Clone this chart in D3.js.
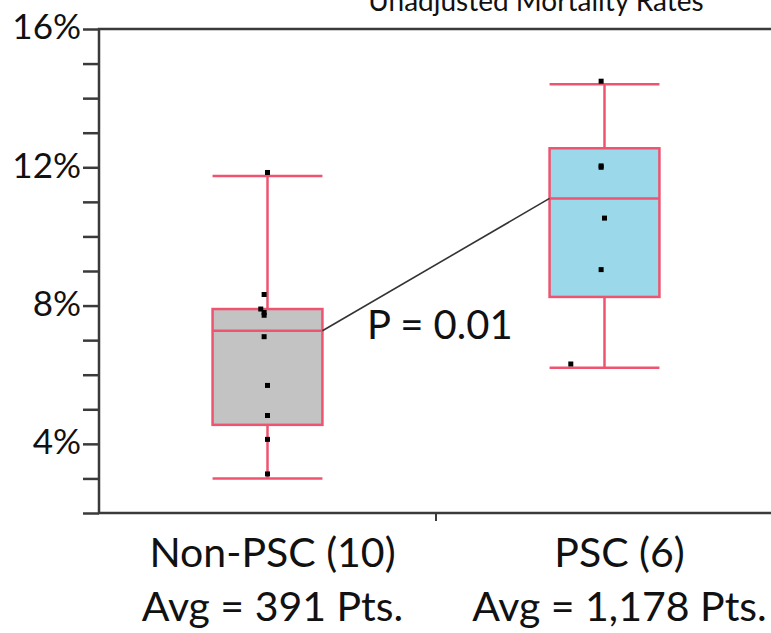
<!DOCTYPE html>
<html>
<head>
<meta charset="utf-8">
<script src="https://cdn.jsdelivr.net/npm/d3@7"></script>
<style>
  body { margin: 0; background: #fff; }
  svg { display: block; font-family: Lato, "Open Sans", sans-serif; }
</style>
</head>
<body>
<div id="canvas"></div>
<script>
// data
const categories = ['Non-PSC (10)', 'PSC (6)'];
const subLabels = ['Avg = 391 Pts.', 'Avg = 1,178 Pts.'];

// box stats (percent)
const boxMin = [3.0, 6.2];
const boxQ1 = [4.55, 8.25];
const boxMedian = [7.27, 11.1];
const boxQ3 = [7.9, 12.55];
const boxMax = [11.75, 14.4];

// individual hospital rates (percent)
const nonPscRates = [11.85, 8.32, 7.9, 7.8, 7.72, 7.1, 5.69, 4.82, 4.13, 3.13];
const pscRates = [14.49, 12.04, 12.0, 10.53, 9.04, 6.31];
// jitter as a fraction of the category band
const nonPscJitter = [0, -0.01, -0.02, -0.01, -0.01, -0.01, 0, 0, 0, 0];
const pscJitter = [-0.01, -0.01, -0.01, 0, -0.01, -0.1];

const yLabelTicks = [4, 8, 12, 16];
const yMinorTicks = [2, 3, 4, 5, 6, 7, 8, 9, 10, 11, 12, 13, 14, 15, 16];

const titleText = 'Unadjusted Mortality Rates';
const pValueText = 'P = 0.01';

const margin = {top: 29, right: -2, bottom: 120, left: 99};
const width = 771, height = 633;
const graphWidth = width - margin.left - margin.right;
const graphHeight = height - margin.top - margin.bottom;

const svg = d3.select('#canvas')
  .append('svg')
  .attr('width', width)
  .attr('height', height);

const graph = svg.append('g')
  .attr('transform', `translate(${margin.left}, ${margin.top})`);

// scales
const x = d3.scaleBand().domain(categories).range([0, graphWidth]);
const y = d3.scaleLinear().domain([2, 16]).range([graphHeight, 0]);
const boxWidth = x.bandwidth() * 0.326;
const cx = c => x(c) + x.bandwidth() / 2;

// title (cut off at the top, like the original)
svg.append('text')
  .attr('x', 536)
  .attr('y', 11)
  .attr('text-anchor', 'middle')
  .attr('font-size', 28)
  .attr('fill', '#111')
  .text(titleText);

// frame
graph.append('rect')
  .attr('x', 0).attr('y', 0)
  .attr('width', graphWidth).attr('height', graphHeight)
  .attr('fill', 'none')
  .attr('stroke', '#3a3a3a')
  .attr('stroke-width', 2.5);

// y axis: minor ticks every 1%, labels every 4%
const yAxisGroup = graph.append('g').attr('class', 'y-axis');
yAxisGroup.call(d3.axisLeft(y)
  .tickValues(yMinorTicks)
  .tickSize(16)
  .tickPadding(2)
  .tickFormat(d => yLabelTicks.includes(d) ? d + '%' : ''));
yAxisGroup.select('.domain').remove();
yAxisGroup.selectAll('line').attr('stroke', '#3a3a3a').attr('stroke-width', 2.5);
yAxisGroup.selectAll('text')
  .attr('font-size', 35)
  .attr('fill', '#111')
  .attr('font-family', 'Lato, sans-serif')
  .attr('dy', '0.28em');

// x axis: single tick between the categories
const xAxisGroup = graph.append('g')
  .attr('class', 'x-axis')
  .attr('transform', `translate(0, ${graphHeight})`);
xAxisGroup.append('line')
  .attr('x1', x(categories[1])).attr('x2', x(categories[1]))
  .attr('y1', 0).attr('y2', 8)
  .attr('stroke', '#3a3a3a').attr('stroke-width', 2);

// category labels (the original text boxes sit a little right of centre)
const labelShift = [5, 15];
categories.forEach((c, i) => {
  const lx = cx(c) + labelShift[i];
  const t = xAxisGroup.append('text')
    .attr('text-anchor', 'middle')
    .attr('font-size', 41)
    .attr('fill', '#111');
  t.append('tspan').attr('x', lx).attr('y', 54).text(c);
  t.append('tspan').attr('x', lx).attr('y', 108).text(subLabels[i]);
});

// boxes
const boxFill = ['#c3c3c3', '#9bd9ea'];
const boxStroke = '#ee5470';

categories.forEach((c, i) => {
  const g = graph.append('g').attr('class', 'box');
  // whisker
  g.append('line')
    .attr('x1', cx(c)).attr('x2', cx(c))
    .attr('y1', y(boxMax[i])).attr('y2', y(boxMin[i]))
    .attr('stroke', boxStroke).attr('stroke-width', 2.5);
  // caps
  [boxMin[i], boxMax[i]].forEach(v => {
    g.append('line')
      .attr('x1', cx(c) - boxWidth / 2).attr('x2', cx(c) + boxWidth / 2)
      .attr('y1', y(v)).attr('y2', y(v))
      .attr('stroke', boxStroke).attr('stroke-width', 2.5);
  });
  // box
  g.append('rect')
    .attr('x', cx(c) - boxWidth / 2)
    .attr('y', y(boxQ3[i]))
    .attr('width', boxWidth)
    .attr('height', y(boxQ1[i]) - y(boxQ3[i]))
    .attr('fill', boxFill[i])
    .attr('stroke', boxStroke).attr('stroke-width', 2.5);
  // median
  g.append('line')
    .attr('x1', cx(c) - boxWidth / 2).attr('x2', cx(c) + boxWidth / 2)
    .attr('y1', y(boxMedian[i])).attr('y2', y(boxMedian[i]))
    .attr('stroke', boxStroke).attr('stroke-width', 2.5);
});

// line joining the medians
graph.append('line')
  .attr('x1', cx(categories[0]) + boxWidth / 2)
  .attr('y1', y(boxMedian[0]))
  .attr('x2', cx(categories[1]) - boxWidth / 2)
  .attr('y2', y(boxMedian[1]))
  .attr('stroke', '#333')
  .attr('stroke-width', 1.6);

// points
const points = [
  ...nonPscRates.map((v, i) => ({cat: categories[0], rate: v, jit: nonPscJitter[i]})),
  ...pscRates.map((v, i) => ({cat: categories[1], rate: v, jit: pscJitter[i]}))
];
graph.selectAll('rect.pt')
  .data(points)
  .enter()
  .append('rect')
    .attr('class', 'pt')
    .attr('x', d => cx(d.cat) + d.jit * x.bandwidth() - 2.5)
    .attr('y', d => y(d.rate) - 2.5)
    .attr('width', 5)
    .attr('height', 5)
    .attr('fill', '#000');

// p value
svg.append('text')
  .attr('x', 367)
  .attr('y', 339)
  .attr('font-size', 40)
  .attr('fill', '#111')
  .text(pValueText);
</script>
</body>
</html>
